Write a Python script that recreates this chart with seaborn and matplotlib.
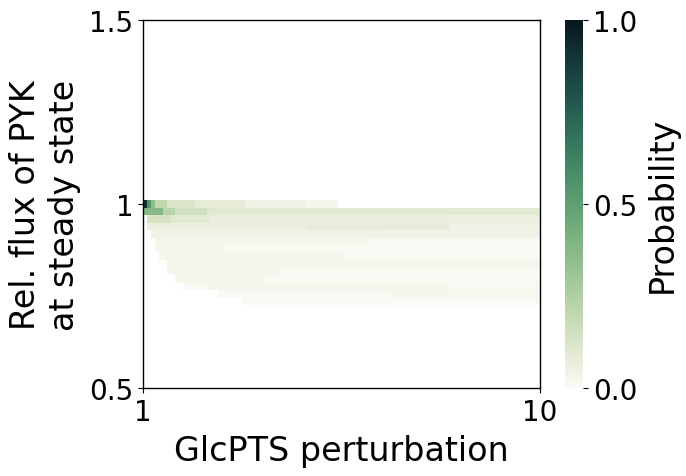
import numpy as np
import pandas as pd
import matplotlib
matplotlib.use("Agg")
import matplotlib.pyplot as plt
import seaborn as sns

# ---- data ----
n_cols = 100            # GlcPTS perturbation bins (1 .. 10)
n_rows = 49             # relative flux bins (1.5 at top .. 0.5 at bottom)
x_tick_labels = ["1", "10"]
y_tick_labels = ["1.5", "1", "0.5"]

# probability per row: (first column, last column, value) segments, row 24 = flux 1.0
row24 = [(0, 0, 0.92), (1, 1, 0.55), (2, 2, 0.35), (3, 5, 0.2), (6, 12, 0.12),
         (13, 25, 0.08), (26, 40, 0.05), (41, 48, 0.025)]
row25 = [(0, 4, 0.38), (5, 7, 0.22), (8, 15, 0.15), (16, 99, 0.1)]
row26 = [(1, 6, 0.14), (7, 16, 0.1), (17, 76, 0.07), (77, 99, 0.06)]
row27 = [(1, 40, 0.065), (41, 76, 0.08), (77, 99, 0.05)]
row28 = [(2, 60, 0.05), (61, 99, 0.04)]
row29 = [(3, 56, 0.03), (57, 99, 0.012)]
row30 = [(3, 20, 0.025), (21, 99, 0.01)]
row31 = [(4, 50, 0.025), (51, 70, 0.012), (71, 99, 0.005)]
row32 = [(6, 50, 0.03), (51, 99, 0.025)]
row33 = [(6, 33, 0.025), (34, 85, 0.018), (86, 99, 0.01)]
row34 = [(8, 30, 0.025), (31, 99, 0.008)]
row35 = [(10, 15, 0.015), (16, 75, 0.028), (76, 99, 0.018)]
row36 = [(19, 62, 0.012), (63, 99, 0.025)]
row37 = [(25, 99, 0.005)]
rows = {24: row24, 25: row25, 26: row26, 27: row27, 28: row28, 29: row29,
        30: row30, 31: row31, 32: row32, 33: row33, 34: row34, 35: row35,
        36: row36, 37: row37}

grid = np.zeros((n_rows, n_cols))
for r, segs in rows.items():
    for c0, c1, v in segs:
        grid[r, c0:c1 + 1] = v
df = pd.DataFrame(grid)

# ---- figure ----
fig = plt.figure(figsize=(6.86, 4.77), dpi=100)
ax = fig.add_axes([143 / 686, 1 - 389 / 477, (540 - 143) / 686, (389 - 21) / 477])
cax = fig.add_axes([565 / 686, 1 - 389 / 477, 18 / 686, (389 - 21) / 477])

cmap = sns.cubehelix_palette(start=2.65, rot=-0.38, dark=0.08, light=0.98,
                             hue=0.8, as_cmap=True)
sns.heatmap(df, ax=ax, cbar_ax=cax, cmap=cmap, vmin=0, vmax=1,
            mask=(grid == 0), xticklabels=False, yticklabels=False)

for s in ax.spines.values():
    s.set_visible(True)
    s.set_color("black")
    s.set_linewidth(1.0)

ax.set_xticks([0, n_cols])
ax.set_xticklabels(x_tick_labels, fontsize=20, rotation=0)
ax.set_yticks([0, 24.5, n_rows])
ax.set_yticklabels(y_tick_labels, fontsize=20, rotation=0)
ax.tick_params(axis="both", length=3.5, width=0.8, direction="out")
ax.set_xlabel("GlcPTS perturbation", fontsize=24, labelpad=6)
ax.set_ylabel("Rel. flux of PYK\nat steady state", fontsize=24, labelpad=6)

cax.set_yticks([0, 0.5, 1.0])
cax.set_yticklabels(["0.0", "0.5", "1.0"], fontsize=20)
cax.tick_params(length=3.5, width=0.8)
cax.set_ylabel("Probability", fontsize=24, labelpad=6)

fig.savefig("out.png", dpi=100)
